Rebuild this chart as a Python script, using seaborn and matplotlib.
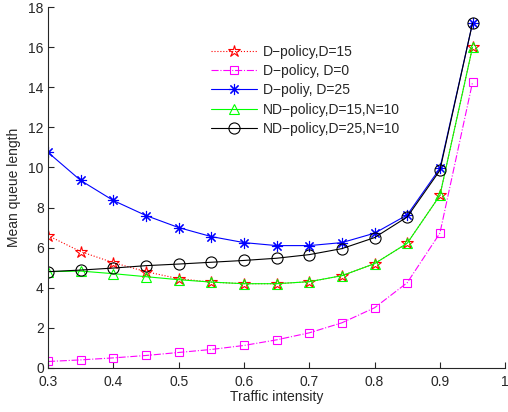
import seaborn as sns
import matplotlib.pyplot as plt
import pandas as pd

traffic = [0.3, 0.35, 0.4, 0.45, 0.5, 0.55, 0.6, 0.65, 0.7, 0.75, 0.8, 0.85, 0.9, 0.95]

d_policy_15 = [6.6, 5.8, 5.25, 4.8, 4.45, 4.28, 4.2, 4.2, 4.3, 4.6, 5.2, 6.22, 8.6, 16.0]
d_policy_0 = [0.32, 0.4, 0.5, 0.62, 0.77, 0.92, 1.12, 1.4, 1.75, 2.25, 3.0, 4.25, 6.72, 14.25]
d_policy_25 = [10.75, 9.35, 8.35, 7.6, 7.0, 6.55, 6.25, 6.1, 6.1, 6.25, 6.72, 7.63, 9.95, 17.2]
nd_policy_15 = [4.8, 4.83, 4.7, 4.55, 4.4, 4.28, 4.2, 4.2, 4.3, 4.6, 5.2, 6.22, 8.6, 16.0]
nd_policy_25 = [4.8, 4.88, 4.98, 5.1, 5.18, 5.27, 5.36, 5.47, 5.65, 5.95, 6.5, 7.53, 9.85, 17.2]

labels = [
    "D\u2212policy,D=15",
    "D\u2212policy, D=0",
    "D\u2212poliy, D=25",
    "ND\u2212policy,D=15,N=10",
    "ND\u2212policy,D=25,N=10",
]

df = pd.DataFrame({
    "traffic": traffic,
    labels[0]: d_policy_15,
    labels[1]: d_policy_0,
    labels[2]: d_policy_25,
    labels[3]: nd_policy_15,
    labels[4]: nd_policy_25,
})

sns.set_style("ticks")
plt.rcParams["font.family"] = ["Liberation Sans", "DejaVu Sans"]
plt.rcParams["font.size"] = 10

fig = plt.figure(figsize=(5.08, 4.12), dpi=100)
ax = fig.add_axes([0.0945, 0.107, 0.9, 0.876])

# style per series: colour, linestyle, marker
styles = [
    ("#ff0000", ":", "*", 9),
    ("#ff00ff", "-.", "s", 6),
    ("#0000ff", "-", (8, 2, 0), 8),
    ("#00ff00", "-", "^", 7),
    ("#000000", "-", "o", 8),
]

for lab, (c, ls, mk, ms) in zip(labels, styles):
    sns.lineplot(
        data=df, x="traffic", y=lab, ax=ax, color=c, linestyle=ls,
        marker=mk, markersize=ms, markerfacecolor="none",
        markeredgecolor=c, markeredgewidth=0.8, linewidth=0.8, label=lab,
    )

ax.set_xlim(0.3, 1)
ax.set_ylim(0, 18)
ax.set_xticks([0.3, 0.4, 0.5, 0.6, 0.7, 0.8, 0.9, 1.0])
ax.set_xticklabels(["0.3", "0.4", "0.5", "0.6", "0.7", "0.8", "0.9", "1"])
ax.set_yticks(range(0, 19, 2))
ax.tick_params(direction="in", length=4, width=0.8, labelsize=10)
ax.tick_params(axis="x", pad=5)
ax.tick_params(axis="y", pad=3)
for side in ["top", "right"]:
    ax.spines[side].set_visible(False)
for side in ["left", "bottom"]:
    ax.spines[side].set_linewidth(0.8)

ax.set_xlabel("Traffic intensity", fontsize=10, labelpad=1)
ax.set_ylabel("Mean queue length", fontsize=10, labelpad=5)

ax.legend(
    loc="upper left", bbox_to_anchor=(0.33, 0.93), frameon=False,
    fontsize=10, handlelength=3.3, labelspacing=0.38, handletextpad=0.4,
)

plt.savefig("out.png", dpi=100)
